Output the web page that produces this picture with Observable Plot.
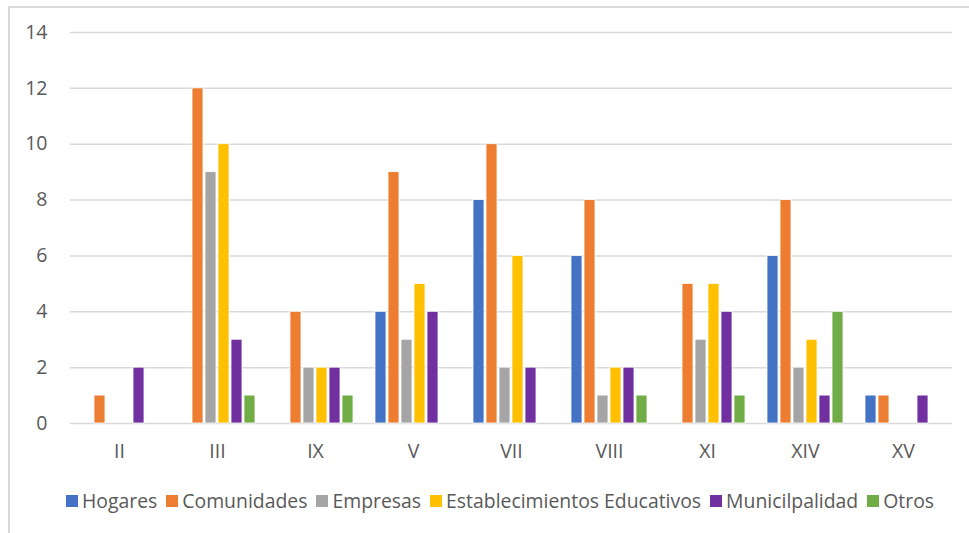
<!DOCTYPE html>
<html>
<head>
<meta charset="utf-8">
<script src="https://cdn.jsdelivr.net/npm/d3@7"></script>
<script src="https://cdn.jsdelivr.net/npm/@observablehq/plot@0.6"></script>
<style>
  html, body { margin: 0; padding: 0; background: white; overflow: hidden; }
  body { width: 969px; height: 533px; position: relative; font-family: "Open Sans", sans-serif; }
  #frame { position: absolute; left: 8px; top: 6px; width: 2000px; height: 2000px;
           border-left: 2px solid #d9d9d9; border-top: 2px solid #d9d9d9; pointer-events: none; }
  #chart { position: absolute; left: 0; top: 0; }
  #legend { position: absolute; left: 40px; width: 920px; top: 487px; display: flex; justify-content: center;
            align-items: center; font-size: 19.4px; color: #595959; white-space: nowrap; }
  .item { display: flex; align-items: center; margin: 0 4.5px; }
  .sw { width: 12px; height: 12px; margin-right: 4px; }
</style>
</head>
<body>
<div id="chart"></div>
<div id="legend"></div>
<div id="frame"></div>
<script>
const categories = ["II", "III", "IX", "V", "VII", "VIII", "XI", "XIV", "XV"];
const seriesNames = ["Hogares", "Comunidades", "Empresas", "Establecimientos Educativos", "Municilpalidad", "Otros"];
const seriesColors = ["#4472C4", "#ED7D31", "#A5A5A5", "#FFC000", "#7030A0", "#70AD47"];
const hogares       = [0, 0, 0, 4, 8, 6, 0, 6, 1];
const comunidades   = [1, 12, 4, 9, 10, 8, 5, 8, 1];
const empresas      = [0, 9, 2, 3, 2, 1, 3, 2, 0];
const educativos    = [0, 10, 2, 5, 6, 2, 5, 3, 0];
const municipalidad = [2, 3, 2, 4, 2, 2, 4, 1, 1];
const otros         = [0, 1, 1, 0, 0, 1, 1, 4, 0];
const yTicks = [0, 2, 4, 6, 8, 10, 12, 14];

const seriesValues = [hogares, comunidades, empresas, educativos, municipalidad, otros];
const data = categories.flatMap((c, i) =>
  seriesNames.map((s, j) => ({category: c, series: s, value: seriesValues[j][i]}))
).filter(d => d.value > 0);

const chart = Plot.plot({
  width: 969,
  height: 470,
  marginTop: 32,
  marginBottom: 47,
  marginLeft: 67,
  marginRight: 14,
  style: {fontFamily: "Open Sans", fontSize: "19.5px", color: "#595959", background: "transparent"},
  fx: {domain: categories, padding: 0, label: null, tickSize: 0, tickPadding: 21, axis: "bottom"},
  x: {domain: seriesNames, axis: null, paddingInner: 0.17, paddingOuter: 0.81},
  y: {domain: [0, 14], ticks: yTicks, tickSize: 0, tickPadding: 23, label: null},
  color: {domain: seriesNames, range: seriesColors},
  marks: [
    Plot.ruleY(yTicks, {stroke: "#d9d9d9", strokeWidth: 1.5}),
    Plot.barY(data, {fx: "category", x: "series", y: "value", fill: "series",
                     stroke: "white", strokeWidth: 0.8})
  ]
});
document.getElementById("chart").appendChild(chart);

const legend = document.getElementById("legend");
seriesNames.forEach((s, i) => {
  const item = document.createElement("div");
  item.className = "item";
  const sw = document.createElement("span");
  sw.className = "sw";
  sw.style.background = seriesColors[i];
  const t = document.createElement("span");
  t.textContent = s;
  item.appendChild(sw);
  item.appendChild(t);
  legend.appendChild(item);
});
</script>
</body>
</html>
